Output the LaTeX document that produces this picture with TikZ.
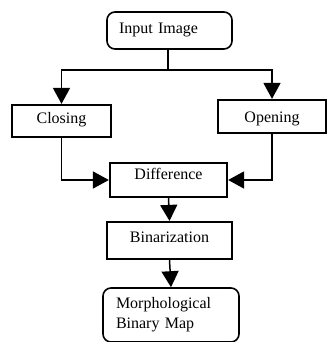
\documentclass[tikz,border=0pt]{standalone}
\usepackage{fontspec}
\setmainfont{Liberation Serif}
\usetikzlibrary{arrows.meta}
\tikzset{
	flowbox/.style={draw, line width=2.2pt, inner sep=0pt, align=center, font=\fontsize{16}{20}\selectfont},
	roundbox/.style={draw, line width=1.6pt, rounded corners=8pt, inner ysep=0pt, font=\fontsize{16}{20}\selectfont},
	flowarrow/.style={line width=1.5pt, -{Triangle[length=16pt,width=17pt]}}
}

\begin{document}
\begin{tikzpicture}[x=1pt, y=-1pt]
		%%%%% START %%%%%
		
		\useasboundingbox (0, 0) rectangle (328, 342);
		
		\node[roundbox, inner xsep=12pt, text width=101pt, align=left, text height=21.5pt, text depth=15.5pt] (input) at (169.5, 30.5) {Input Image};
		
		\node[flowbox, minimum width=99pt, text height=18pt, text depth=14pt] (closing) at (61.5, 121) {Closing};
		\node[flowbox, minimum width=108pt, text height=22pt, text depth=11pt] (opening) at (272, 116.5) {Opening};
		
		\node[flowbox, minimum width=117pt, text height=16pt, text depth=18pt] (diff) at (168.5, 180) {Difference};
		\node[flowbox, minimum width=125pt, text height=20pt, text depth=17pt] (binar) at (169.5, 240.5) {Binarization};
		
		\node[roundbox, inner xsep=13pt, text width=110pt, align=left, minimum height=54pt] (morph) at (171, 315) {Morphological\\Binary Map};
		
		\coordinate (split) at (168, 70);
		\draw[line width=1.5pt] (split |- input.south) -- (split);
		\draw[flowarrow] (split) -| (closing.north);
		\draw[flowarrow] (split) -| (opening.north);
		
		\draw[flowarrow] (closing.south) |- (diff.west);
		\draw[flowarrow] (opening.south) |- (diff.east);
		
		\draw[flowarrow] (diff.south) -- (binar.north);
		\draw[flowarrow] (binar.south) -- (morph.north);
		
		%%%%% END %%%%%
	\end{tikzpicture}
\end{document}
